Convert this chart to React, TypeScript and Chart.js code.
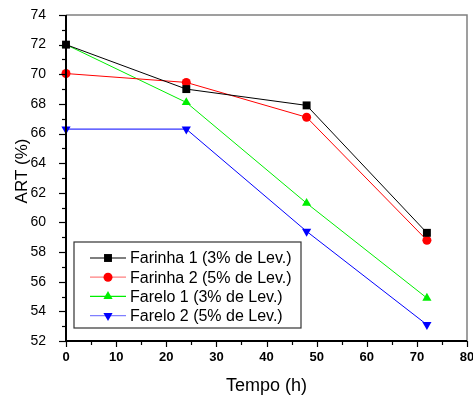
import React, { useEffect, useRef } from "react";
import { Chart, registerables } from "chart.js";

Chart.register(...registerables);

const timeHours = [0, 24, 48, 72];
const farinha1 = [72.0, 69.0, 67.9, 59.3];
const farinha2 = [70.05, 69.45, 67.1, 58.8];
const farelo1 = [72.0, 68.1, 61.3, 54.9];
const farelo2 = [66.3, 66.3, 59.4, 53.1];
const seriesLabels = [
  "Farinha 1 (3% de Lev.)",
  "Farinha 2 (5% de Lev.)",
  "Farelo 1 (3% de Lev.)",
  "Farelo 2 (5% de Lev.)",
];
const xTitle = "Tempo (h)";
const yTitle = "ART (%)";

const FONT = "'Liberation Sans', Arial, sans-serif";

const seriesStyles = [
  { color: "#000000", legendLine: "#000000", style: "rect", radius: 5.6, rotation: 0 },
  { color: "#ff0000", legendLine: "#ff7f7f", style: "circle", radius: 4.5, rotation: 0 },
  { color: "#00ee00", legendLine: "#00ee00", style: "triangle", radius: 5.3, rotation: 0 },
  { color: "#0000ff", legendLine: "#7f7fff", style: "triangle", radius: 5.3, rotation: 180 },
];

function drawMarker(ctx: CanvasRenderingContext2D, style: string, x: number, y: number, r: number, rot: number, color: string) {
  ctx.save();
  ctx.fillStyle = color;
  ctx.beginPath();
  if (style === "rect") {
    const s = r * Math.SQRT1_2;
    ctx.rect(x - s, y - s, 2 * s, 2 * s);
  } else if (style === "circle") {
    ctx.arc(x, y, r, 0, Math.PI * 2);
  } else {
    const a0 = ((rot - 90) * Math.PI) / 180;
    for (let i = 0; i < 3; i++) {
      const a = a0 + (i * 2 * Math.PI) / 3;
      const px = x + r * Math.cos(a);
      const py = y + r * Math.sin(a);
      if (i === 0) ctx.moveTo(px, py);
      else ctx.lineTo(px, py);
    }
    ctx.closePath();
  }
  ctx.fill();
  ctx.restore();
}

const framePlugin = {
  id: "framePlugin",
  afterDraw(chart: any) {
    const ctx: CanvasRenderingContext2D = chart.ctx;
    const { left, right, top, bottom } = chart.chartArea;
    const xs = chart.scales.x;
    const ys = chart.scales.y;
    ctx.save();
    ctx.strokeStyle = "#808080";
    ctx.lineWidth = 1.5;
    ctx.beginPath();
    ctx.moveTo(left, top);
    ctx.lineTo(right, top);
    ctx.lineTo(right, bottom);
    ctx.stroke();
    ctx.strokeStyle = "#000000";
    ctx.lineWidth = 2;
    ctx.beginPath();
    ctx.moveTo(left, top);
    ctx.lineTo(left, bottom);
    ctx.lineTo(right, bottom);
    ctx.stroke();
    ctx.lineWidth = 1.2;
    for (let v = 52; v <= 74; v += 1) {
      const y = Math.round(ys.getPixelForValue(v)) + 0.5;
      const len = v % 2 === 0 ? 7 : 4;
      ctx.beginPath();
      ctx.moveTo(left - len, y);
      ctx.lineTo(left, y);
      ctx.stroke();
    }
    for (let v = 0; v <= 80; v += 5) {
      const x = Math.round(xs.getPixelForValue(v)) + 0.5;
      const len = v % 10 === 0 ? 6 : 4;
      ctx.beginPath();
      ctx.moveTo(x, bottom);
      ctx.lineTo(x, bottom + len);
      ctx.stroke();
    }
    ctx.fillStyle = "#000";
    ctx.font = `18px ${FONT}`;
    ctx.textAlign = "center";
    ctx.textBaseline = "alphabetic";
    ctx.fillText(xTitle, (left + right) / 2, 391);
    ctx.save();
    ctx.translate(27, 171);
    ctx.rotate(-Math.PI / 2);
    ctx.font = `17px ${FONT}`;
    ctx.fillText(yTitle, 0, 0);
    ctx.restore();

    const bx = left + 8;
    const by = 242;
    const bw = 227;
    const bh = 86;
    ctx.fillStyle = "#ffffff";
    ctx.fillRect(bx, by, bw, bh);
    ctx.strokeStyle = "#333333";
    ctx.lineWidth = 1.2;
    ctx.strokeRect(bx, by, bw, bh);
    ctx.font = `16px ${FONT}`;
    ctx.textAlign = "left";
    ctx.textBaseline = "middle";
    for (let i = 0; i < seriesLabels.length; i++) {
      const s = seriesStyles[i];
      const cy = by + 16 + i * 19.2;
      ctx.strokeStyle = s.legendLine;
      ctx.lineWidth = 1.2;
      ctx.beginPath();
      ctx.moveTo(bx + 16, cy);
      ctx.lineTo(bx + 52, cy);
      ctx.stroke();
      drawMarker(ctx, s.style, bx + 34, cy, s.radius, s.rotation, s.color);
      ctx.fillStyle = "#000";
      ctx.fillText(seriesLabels[i], bx + 56, cy + 1);
    }
    ctx.restore();
  },
};

export default function App() {
  const ref = useRef<HTMLCanvasElement | null>(null);
  useEffect(() => {
    if (!ref.current) return;
    const allSeries = [farinha1, farinha2, farelo1, farelo2];
    const chart = new Chart(ref.current, {
      type: "scatter",
      data: {
        datasets: allSeries.map((vals, i) => ({
          label: seriesLabels[i],
          data: vals.map((v, j) => ({ x: timeHours[j], y: v })),
          showLine: true,
          borderColor: seriesStyles[i].color,
          backgroundColor: seriesStyles[i].color,
          borderWidth: 1,
          pointStyle: seriesStyles[i].style as any,
          pointRadius: seriesStyles[i].radius,
          pointRotation: seriesStyles[i].rotation,
          pointBorderWidth: 0,
          pointBackgroundColor: seriesStyles[i].color,
          clip: false as any,
        })),
      },
      options: {
        animation: false,
        responsive: false,
        devicePixelRatio: 1,
        layout: { padding: { left: 0, top: 15, right: 6, bottom: 0 } },
        plugins: { legend: { display: false }, tooltip: { enabled: false } },
        scales: {
          x: {
            type: "linear",
            min: 0,
            max: 80,
            grid: { display: false },
            border: { display: false },
            ticks: {
              stepSize: 10,
              padding: 1,
              color: "#000",
              font: { family: FONT, size: 13, weight: "bold" },
              maxRotation: 0,
            },
            afterFit: (s: any) => {
              s.height = 55;
              s.paddingLeft = 0;
              s.paddingRight = 0;
            },
          },
          y: {
            type: "linear",
            min: 52,
            max: 74,
            grid: { display: false },
            border: { display: false },
            ticks: {
              stepSize: 2,
              padding: 12,
              color: "#000",
              font: { family: FONT, size: 14 },
            },
            afterFit: (s: any) => {
              s.width = 66;
              s.paddingTop = 0;
              s.paddingBottom = 0;
            },
          },
        },
      },
      plugins: [framePlugin],
    });
    return () => chart.destroy();
  }, []);
  return (
    <div style={{ position: "absolute", left: 0, top: 0, width: 473, height: 396, background: "#fff" }}>
      <canvas ref={ref} width={473} height={396} style={{ display: "block" }} />
    </div>
  );
}
